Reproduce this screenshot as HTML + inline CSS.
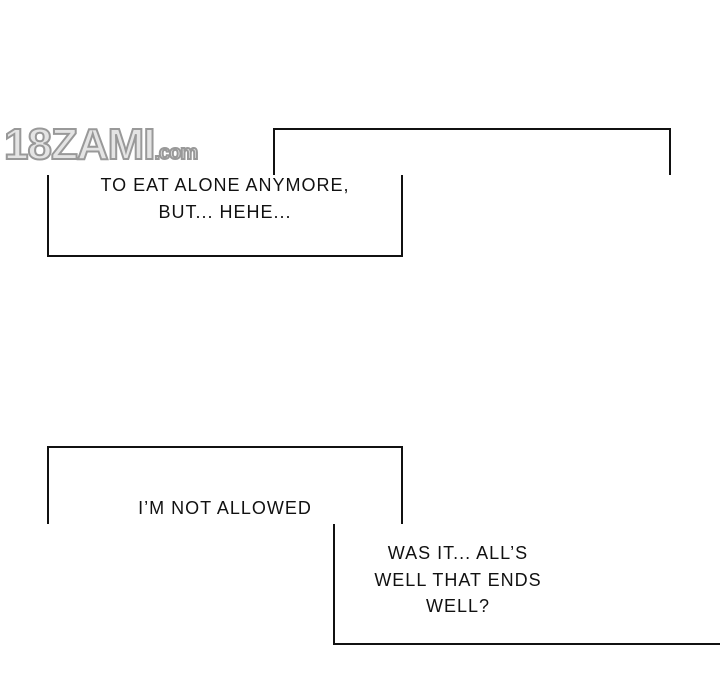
<!DOCTYPE html>
<html><head><style>
body{margin:0;width:720px;height:700px;background:#fff;position:relative;overflow:hidden;font-family:"Liberation Sans",sans-serif}
.l{position:absolute;background:#111}
.t{position:absolute;font-size:18px;color:#111;text-align:center;line-height:26.5px;letter-spacing:1px}
.logo{position:absolute;left:4px;top:120px;font-size:44px;font-weight:bold;color:#e4e4e4;-webkit-text-stroke:2px #999;letter-spacing:-1px}
</style></head><body>
<div class="logo">18ZAMI<span style="font-size:20px">.com</span></div>
<div class="l" style="left:273px;top:128px;width:398px;height:2px"></div>
<div class="l" style="left:273px;top:128px;width:2px;height:47px"></div>
<div class="l" style="left:669px;top:128px;width:2px;height:47px"></div>
<div class="l" style="left:47px;top:175px;width:2px;height:82px"></div>
<div class="l" style="left:401px;top:175px;width:2px;height:82px"></div>
<div class="l" style="left:47px;top:255px;width:356px;height:2px"></div>
<div class="t" style="left:48px;top:172px;width:354px">TO EAT ALONE ANYMORE,<br>BUT... HEHE...</div>
<div class="l" style="left:47px;top:446px;width:356px;height:2px"></div>
<div class="l" style="left:47px;top:446px;width:2px;height:78px"></div>
<div class="l" style="left:401px;top:446px;width:2px;height:78px"></div>
<div class="t" style="left:48px;top:495px;width:354px">I’M NOT ALLOWED</div>
<div class="l" style="left:333px;top:524px;width:2px;height:121px"></div>
<div class="l" style="left:333px;top:643px;width:387px;height:2px"></div>
<div class="t" style="left:334px;top:540px;width:248px">WAS IT... ALL’S<br>WELL THAT ENDS<br>WELL?</div>
</body></html>
